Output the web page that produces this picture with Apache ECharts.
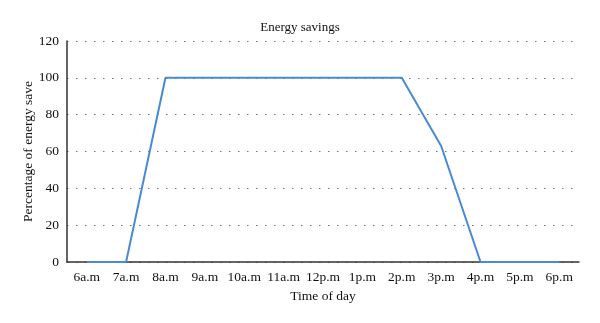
<!DOCTYPE html>
<html><head><meta charset="utf-8">
<script src="https://cdn.jsdelivr.net/npm/echarts@6/dist/echarts.min.js"></script>
<style>html,body{margin:0;padding:0;background:#fff}#c{width:600px;height:323px}</style>
</head><body><div id="c"></div>
<script>
const categories = ['6a.m','7a.m','8a.m','9a.m','10a.m','11a.m','12p.m','1p.m','2p.m','3p.m','4p.m','5p.m','6p.m'];
const savings = [0,0,100,100,100,100,100,100,100,63,0,0,0];
const yTicks = [0,20,40,60,80,100,120];
const font = 'Liberation Serif';
const chart = echarts.init(document.getElementById('c'), null, {renderer:'canvas'});
chart.setOption({
  animation:false,
  title:{text:'Energy savings', left:'center', top:16, textStyle:{fontFamily:font, fontSize:13, fontWeight:'normal', color:'#111'}},
  grid:{left:67, right:21, top:41, bottom:61, containLabel:false},
  xAxis:{type:'category', data:categories, boundaryGap:true,
    name:'Time of day', nameLocation:'middle', nameGap:27, nameMoveOverlap:false,
    nameTextStyle:{fontFamily:font, fontSize:13.5, color:'#111'},
    axisLine:{lineStyle:{color:'#333', width:1.5}}, axisTick:{show:false},
    axisLabel:{fontFamily:font, fontSize:13.5, color:'#111', margin:8, interval:0}},
  yAxis:{type:'value', min:yTicks[0], max:yTicks[yTicks.length-1], interval:20,
    name:'Percentage of energy save', nameLocation:'middle', nameGap:32, nameRotate:90, nameMoveOverlap:false,
    nameTextStyle:{fontFamily:font, fontSize:13.5, color:'#111'},
    axisLine:{show:true, lineStyle:{color:'#333', width:1.5}}, axisTick:{show:false},
    axisLabel:{fontFamily:font, fontSize:13.5, color:'#111', margin:8},
    splitLine:{show:true, lineStyle:{type:[1.5,7.5], color:'#777', width:1.2}}},
  series:[{type:'line', data:savings, symbol:'none', lineStyle:{color:'#4a8ad4', width:2}}]
});
</script></body></html>
